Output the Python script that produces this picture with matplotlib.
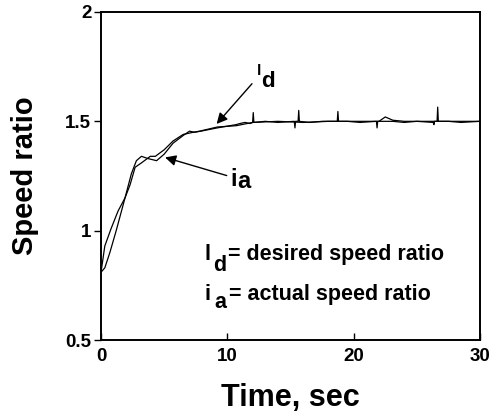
import matplotlib
matplotlib.use("Agg")
import matplotlib.pyplot as plt

plt.rcParams['font.family'] = ['Liberation Sans', 'DejaVu Sans']

# actual speed ratio (with small spikes)
t_a = [0, 0.3, 0.8, 1.35, 1.9, 2.4, 2.8, 3.2, 3.7, 4.4, 5.0, 5.7, 6.5, 7.0, 7.4, 7.9,
       9.2, 10.7, 11.0, 11.4, 11.8, 12.0, 12.05, 12.1, 13, 14, 15.3, 15.35, 15.4,
       15.6, 15.65, 15.7, 16.5, 17.5, 18.7, 18.75, 18.8, 19.5, 20.5, 21.8, 21.85,
       21.9, 22.5, 23.1, 24, 25, 26.3, 26.35, 26.4, 26.6, 26.65, 26.7, 27.5, 28.5, 30]
i_a = [0.81, 0.93, 1.01, 1.09, 1.15, 1.26, 1.32, 1.34, 1.33, 1.32, 1.35, 1.40, 1.435,
       1.455, 1.45, 1.455, 1.47, 1.485, 1.49, 1.495, 1.49, 1.495, 1.54, 1.495, 1.50,
       1.495, 1.50, 1.47, 1.50, 1.50, 1.55, 1.50, 1.495, 1.50, 1.50, 1.545, 1.50,
       1.50, 1.495, 1.50, 1.47, 1.50, 1.50, 1.50, 1.495, 1.50, 1.495, 1.485, 1.50,
       1.50, 1.565, 1.50, 1.50, 1.495, 1.50]

# desired speed ratio
t_d = [0, 0.3, 0.7, 1.2, 1.9, 2.3, 2.7, 3.2, 3.9, 4.3, 5.0, 5.7, 6.5, 7.3, 7.8, 9.2,
       10.7, 12, 14, 16, 18, 20, 22, 22.5, 23.1, 24, 26, 28, 30]
i_d = [0.81, 0.83, 0.9, 1.0, 1.15, 1.21, 1.29, 1.31, 1.34, 1.34, 1.37, 1.41, 1.44,
       1.45, 1.455, 1.474, 1.48, 1.495, 1.50, 1.495, 1.50, 1.50, 1.50, 1.52, 1.505,
       1.50, 1.50, 1.50, 1.50]

x_ticks = [0, 10, 20, 30]
y_ticks = [0.5, 1, 1.5, 2]
y_labels = ['0.5', '1', '1.5', '2']

fig = plt.figure(figsize=(4.94, 4.15), dpi=100)
ax = fig.add_axes([0.2045, 0.1807, 0.7672, 0.7904])

ax.plot(t_d, i_d, color='black', lw=0.9)
ax.plot(t_a, i_a, color='black', lw=0.9)

ax.set_xlim(0, 30)
ax.set_ylim(0.5, 2)
ax.set_xticks(x_ticks)
ax.set_xticklabels([str(v) for v in x_ticks], fontsize=13.5, fontweight='bold')
ax.set_yticks(y_ticks)
ax.set_yticklabels(y_labels, fontsize=13.5, fontweight='bold')
ax.tick_params(axis='x', direction='in', length=5, width=1, pad=6)
ax.tick_params(axis='y', direction='out', length=5, width=1, pad=2)
for s in ax.spines.values():
    s.set_linewidth(1.4)

ax.set_xlabel('Time, sec', fontsize=22, fontweight='bold', labelpad=13)
ax.set_ylabel('Speed ratio', fontsize=21, fontweight='bold', labelpad=19)

# curve labels with arrows
arrow = dict(arrowstyle='-|>', color='black', lw=1, mutation_scale=16,
             shrinkA=0, shrinkB=0)
ax.annotate('', xy=(9.15, 1.488), xytext=(11.95, 1.672), arrowprops=arrow)
ax.annotate('', xy=(5.07, 1.335), xytext=(9.95, 1.252), arrowprops=arrow)
ax.text(12.3, 1.713, 'l', fontsize=11, fontweight='bold')
ax.text(12.7, 1.658, 'd', fontsize=16, fontweight='bold')
ax.text(10.2, 1.203, 'i', fontsize=17, fontweight='bold')
ax.text(10.77, 1.194, 'a', fontsize=17, fontweight='bold')

# definitions
ax.text(8.23, 0.867, 'l', fontsize=15.5, fontweight='bold')
ax.text(8.87, 0.817, 'd', fontsize=15.5, fontweight='bold')
ax.text(10.05, 0.867, '= desired speed ratio', fontsize=15.5, fontweight='bold')
ax.text(8.23, 0.684, 'i', fontsize=15.5, fontweight='bold')
ax.text(8.95, 0.648, 'a', fontsize=15.5, fontweight='bold')
ax.text(10.13, 0.684, '= actual speed ratio', fontsize=15.5, fontweight='bold')

fig.savefig('out.png', dpi=100)
